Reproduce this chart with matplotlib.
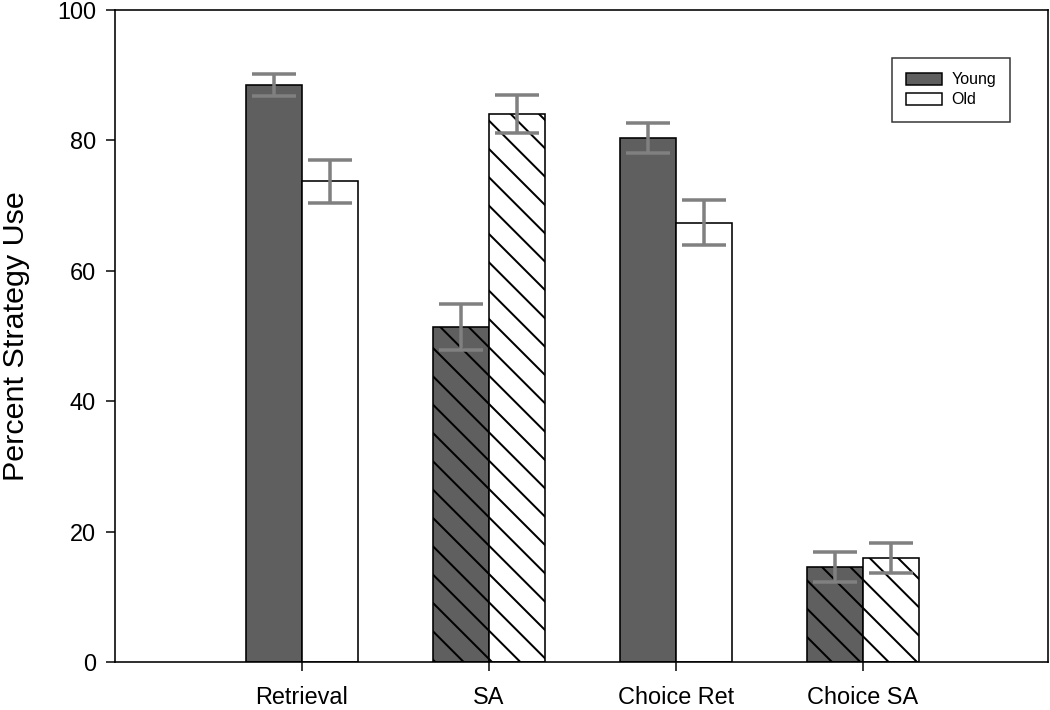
import matplotlib
matplotlib.use("Agg")
import matplotlib.pyplot as plt
import numpy as np
from matplotlib.patches import Patch

categories = ["Retrieval", "SA", "Choice Ret", "Choice SA"]
young = [88.5, 51.4, 80.4, 14.6]
young_err = [1.7, 3.5, 2.3, 2.3]
old = [73.7, 84.0, 67.4, 15.9]
old_err = [3.3, 2.9, 3.4, 2.3]
hatches = ["", "\\\\", "", "\\\\"]
yticks = [0, 20, 40, 60, 80, 100]

DPI = 170
def px(v):
    return v * 72.0 / DPI

plt.rcParams['font.family'] = ['Liberation Sans', 'DejaVu Sans']
plt.rcParams['hatch.linewidth'] = px(2.0)
plt.rcParams['hatch.color'] = 'black'

fig = plt.figure(figsize=(1050 / DPI, 710 / DPI), dpi=DPI)
ax = fig.add_axes([115 / 1050, 1 - 662 / 710, (1048 - 115) / 1050, (662 - 10) / 710])

x = np.arange(len(categories))
w = 0.3
ecol = '#808080'
for i in range(len(categories)):
    ax.bar(x[i] - w / 2, young[i], w, color='#5f5f5f', edgecolor='black',
           linewidth=px(1.6), hatch=hatches[i], zorder=2)
    ax.bar(x[i] + w / 2, old[i], w, color='white', edgecolor='black',
           linewidth=px(1.6), hatch=hatches[i], zorder=2)
ax.errorbar(x - w / 2, young, yerr=young_err, fmt='none', ecolor=ecol,
            elinewidth=px(3.5), capsize=px(22), capthick=px(3.5), zorder=3)
ax.errorbar(x + w / 2, old, yerr=old_err, fmt='none', ecolor=ecol,
            elinewidth=px(3.5), capsize=px(22), capthick=px(3.5), zorder=3)

ax.set_xlim(-1, 3.99)
ax.set_ylim(0, 100)
ax.set_xticks(x)
ax.set_xticklabels(categories)
ax.set_yticks(yticks)
ax.tick_params(axis='both', direction='out', length=px(9), width=px(1.5),
               labelsize=px(23.5), top=False, right=False)
ax.tick_params(axis='y', pad=px(10))
ax.tick_params(axis='x', pad=px(15))
for s in ax.spines.values():
    s.set_linewidth(px(1.6))
ax.set_ylabel("Percent Strategy Use", fontsize=px(30.5), labelpad=px(27))

handles = [Patch(facecolor='#5f5f5f', edgecolor='black', linewidth=px(1.5)),
           Patch(facecolor='white', edgecolor='black', linewidth=px(1.5))]
leg = ax.legend(handles, ["Young", "Old"], loc='upper left',
                bbox_to_anchor=((892 - 115) / 933, (662 - 58) / 652),
                fontsize=px(16), frameon=True, fancybox=False,
                edgecolor='black', handlelength=2.2, handleheight=0.8,
                handletextpad=0.6, borderpad=0.9, labelspacing=0.3,
                borderaxespad=0)
leg.get_frame().set_linewidth(px(1.5))

fig.savefig("out.png", dpi=DPI)
